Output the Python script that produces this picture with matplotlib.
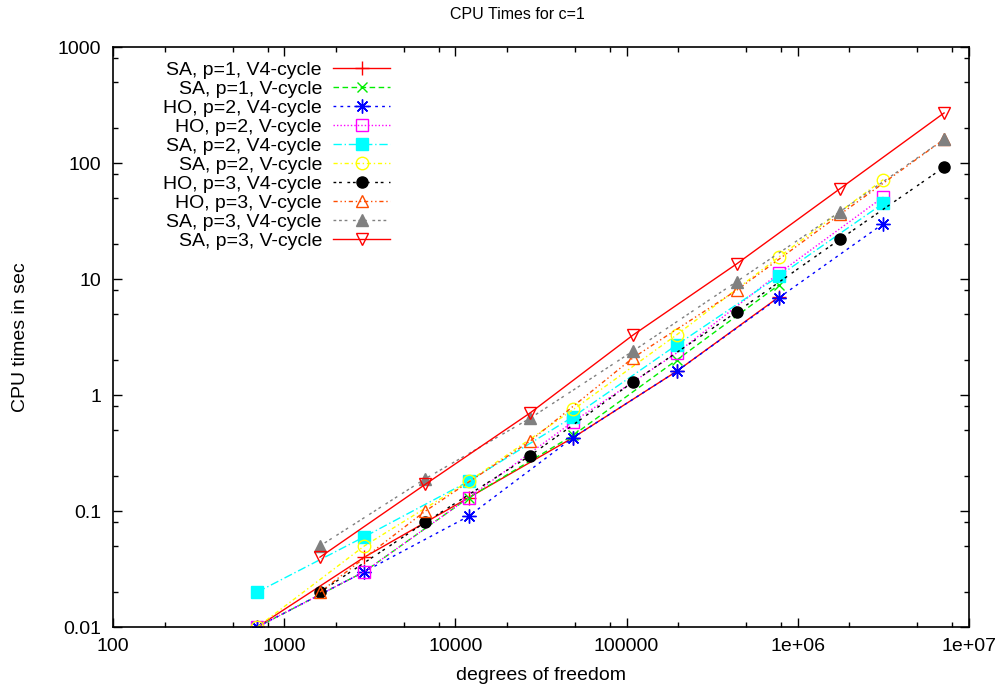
import matplotlib.pyplot as plt
from matplotlib.ticker import LogLocator, NullFormatter

plt.rcParams['font.family'] = ['Liberation Sans', 'DejaVu Sans']

# degrees of freedom: p=1 and p=2 share the grid sizes, p=3 has its own
dof_p12 = [697, 2940, 11930, 48800, 196000, 776000, 3160000]
dof_p3 = [1618, 6680, 27300, 109400, 439500, 1762000, 7150000]

# CPU times in seconds
sa_p1_v4 = [0.01, 0.04, 0.13, 0.43, 1.6, 7.0]
sa_p1_v = [0.01, 0.03, 0.13, 0.45, 2.0, 8.9]
ho_p2_v4 = [0.01, 0.03, 0.09, 0.43, 1.6, 6.9, 30]
ho_p2_v = [0.01, 0.03, 0.13, 0.59, 2.3, 11.2, 51]
sa_p2_v4 = [0.02, 0.06, 0.18, 0.65, 2.7, 10.6, 45]
sa_p2_v = [0.01, 0.05, 0.18, 0.75, 3.3, 15.5, 72]
ho_p3_v4 = [0.02, 0.08, 0.3, 1.3, 5.2, 22, 92]
ho_p3_v = [0.02, 0.10, 0.4, 2.1, 8.0, 36, 160]
sa_p3_v4 = [0.05, 0.19, 0.63, 2.4, 9.5, 38, 160]
sa_p3_v = [0.04, 0.17, 0.7, 3.3, 13.5, 60, 270]

names = ['SA, p=1, V4-cycle', 'SA, p=1, V-cycle', 'HO, p=2, V4-cycle',
         'HO, p=2, V-cycle', 'SA, p=2, V4-cycle', 'SA, p=2, V-cycle',
         'HO, p=3, V4-cycle', 'HO, p=3, V-cycle', 'SA, p=3, V4-cycle',
         'SA, p=3, V-cycle']

x_ticks = [100, 1000, 10000, 100000, 1e6, 1e7]
x_labels = ['100', '1000', '10000', '100000', '1e+06', '1e+07']
y_ticks = [0.01, 0.1, 1, 10, 100, 1000]
y_labels = ['0.01', '0.1', '1', '10', '100', '1000']

# gnuplot-like line types
styles = [
    dict(color='#ff0000', ls='-', marker='+', ms=10, mew=1.0, mfc='none'),
    dict(color='#00ee00', ls=(0, (4, 2.5)), marker='x', ms=7, mew=1.0, mfc='none'),
    dict(color='#0000ff', ls=(0, (2, 3)), marker=(8, 2, 0), ms=10, mew=1.0, mfc='none'),
    dict(color='#ff00ff', ls=(0, (1, 1.5)), marker='s', ms=8, mew=1.0, mfc='none'),
    dict(color='#00ffff', ls=(0, (6, 2, 1, 2)), marker='s', ms=8, mew=1.0),
    dict(color='#ffff00', ls=(0, (3, 2, 1, 2)), marker='o', ms=9, mew=1.0, mfc='none'),
    dict(color='#000000', ls=(0, (2, 2, 2, 4)), marker='o', ms=8, mew=1.0),
    dict(color='#ff4d00', ls=(0, (3, 2, 1, 2, 1, 2)), marker='^', ms=9, mew=1.0, mfc='none'),
    dict(color='#808080', ls=(0, (2, 2, 2, 2, 2, 4)), marker='^', ms=8, mew=1.0),
    dict(color='#ff0000', ls='-', marker='v', ms=9, mew=1.0, mfc='none'),
]

series = [(dof_p12[:6], sa_p1_v4), (dof_p12[:6], sa_p1_v),
          (dof_p12, ho_p2_v4), (dof_p12, ho_p2_v),
          (dof_p12, sa_p2_v4), (dof_p12, sa_p2_v),
          (dof_p3, ho_p3_v4), (dof_p3, ho_p3_v),
          (dof_p3, sa_p3_v4), (dof_p3, sa_p3_v)]

fig = plt.figure(figsize=(10.04, 6.87), dpi=100)
ax = fig.add_axes([113 / 1004, 1 - 627 / 687, 856 / 1004, 580 / 687])

for (x, y), name, st in zip(series, names, styles):
    ax.plot(x, y, label=name, lw=1.0, **st)

ax.set_xscale('log')
ax.set_yscale('log')
ax.set_xlim(100, 1e7)
ax.set_ylim(0.01, 1000)
ax.set_xticks(x_ticks, x_labels)
ax.set_yticks(y_ticks, y_labels)
ax.xaxis.set_minor_locator(LogLocator(base=10, subs=[2, 5, 8], numticks=20))
ax.yaxis.set_minor_locator(LogLocator(base=10, subs=[2, 5, 8], numticks=20))
ax.xaxis.set_minor_formatter(NullFormatter())
ax.yaxis.set_minor_formatter(NullFormatter())
ax.tick_params(which='both', direction='in', top=True, right=True, labelsize=14, width=1.0)
ax.tick_params(which='major', length=6.5)
ax.tick_params(axis='x', which='major', pad=8)
ax.tick_params(axis='y', which='major', pad=8.5)
ax.tick_params(which='minor', length=3.6)
for s in ax.spines.values():
    s.set_linewidth(1.2)

ax.set_title('CPU Times for c=1', fontsize=11.5, pad=20, x=0.472)
ax.set_xlabel('degrees of freedom', fontsize=14)
ax.set_ylabel('CPU times in sec', fontsize=14)
ax.xaxis.set_label_coords(0.5, -(667 - 627) / 580)
ax.yaxis.set_label_coords(-(113 - 29) / 856, 0.5)

ax.legend(loc='upper right', bbox_to_anchor=(0.324, 0.975), markerfirst=False,
          frameon=False, fontsize=14, handlelength=2.95, handletextpad=0.57,
          labelspacing=0.07, borderpad=0, borderaxespad=0)

fig.savefig('out.png', dpi=100)
